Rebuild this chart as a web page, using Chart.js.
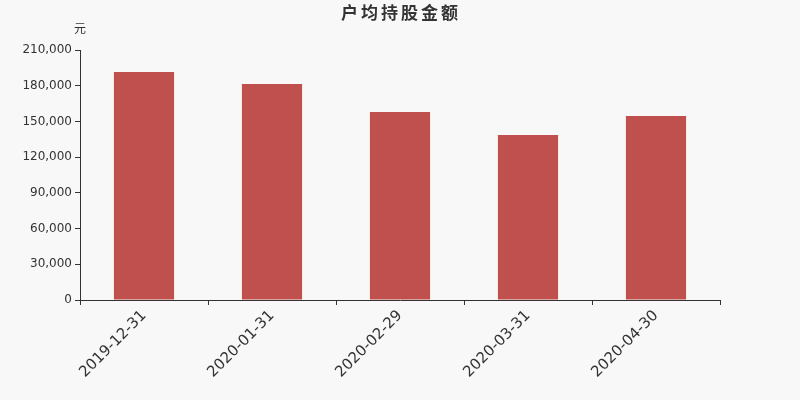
<!DOCTYPE html>
<html>
<head>
<meta charset="utf-8">
<script src="https://cdn.jsdelivr.net/npm/chart.js@4/dist/chart.umd.min.js"></script>
<style>
  html, body { margin: 0; padding: 0; background: #f8f8f8; }
  #wrap { width: 800px; height: 400px; }
</style>
</head>
<body>
<div id="wrap"><canvas id="chart"></canvas></div>
<script>
const categories = ["2019-12-31", "2020-01-31", "2020-02-29", "2020-03-31", "2020-04-30"];
const amounts = [191500, 181400, 157900, 138600, 154600];
const chartTitle = "户均持股金额";
const unitLabel = "元";

const textColor = "#333";
const barColor = "#c0504d";

// title and unit label drawn by hand so the layout stays fixed
const headerPlugin = {
    id: "header",
    afterDraw(chart) {
        const ctx = chart.ctx;
        ctx.save();
        ctx.fillStyle = textColor;
        ctx.textAlign = "center";
        ctx.textBaseline = "middle";
        ctx.font = "bold 17px 'Noto Sans CJK SC', sans-serif";
        ctx.letterSpacing = "3px";
        ctx.fillText(chartTitle, 401, 13);
        ctx.letterSpacing = "0px";
        ctx.font = "12px 'Noto Sans CJK SC', sans-serif";
        ctx.fillText(unitLabel, chart.chartArea.left, 28);
        ctx.restore();
    }
};

const ctx = document.getElementById("chart").getContext("2d");
new Chart(ctx, {
    type: "bar",
    data: {
        labels: categories,
        datasets: [{
            data: amounts,
            backgroundColor: barColor,
            barPercentage: 0.47,
            categoryPercentage: 1
        }]
    },
    options: {
        responsive: true,
        maintainAspectRatio: false,
        animation: false,
        layout: { padding: { top: 50, right: 80, left: 0, bottom: 0 } },
        plugins: {
            legend: { display: false },
            tooltip: { enabled: false }
        },
        scales: {
            x: {
                offset: true,
                grid: {
                    offset: true,
                    drawOnChartArea: false,
                    drawTicks: true,
                    tickLength: 5,
                    color: textColor
                },
                border: { color: textColor },
                ticks: {
                    color: textColor,
                    font: { family: "'DejaVu Sans', sans-serif", size: 15 },
                    maxRotation: 45,
                    minRotation: 45,
                    padding: 2
                },
                afterFit(scale) { scale.height = 100; }
            },
            y: {
                min: 0,
                max: 210000,
                ticks: {
                    stepSize: 30000,
                    color: textColor,
                    font: { family: "'DejaVu Sans', sans-serif", size: 12 },
                    padding: 3,
                    callback: v => v.toLocaleString("en-US")
                },
                grid: {
                    drawOnChartArea: false,
                    drawTicks: true,
                    tickLength: 5,
                    color: textColor
                },
                border: { color: textColor },
                afterFit(scale) { scale.width = 80; }
            }
        }
    },
    plugins: [headerPlugin]
});
</script>
</body>
</html>
